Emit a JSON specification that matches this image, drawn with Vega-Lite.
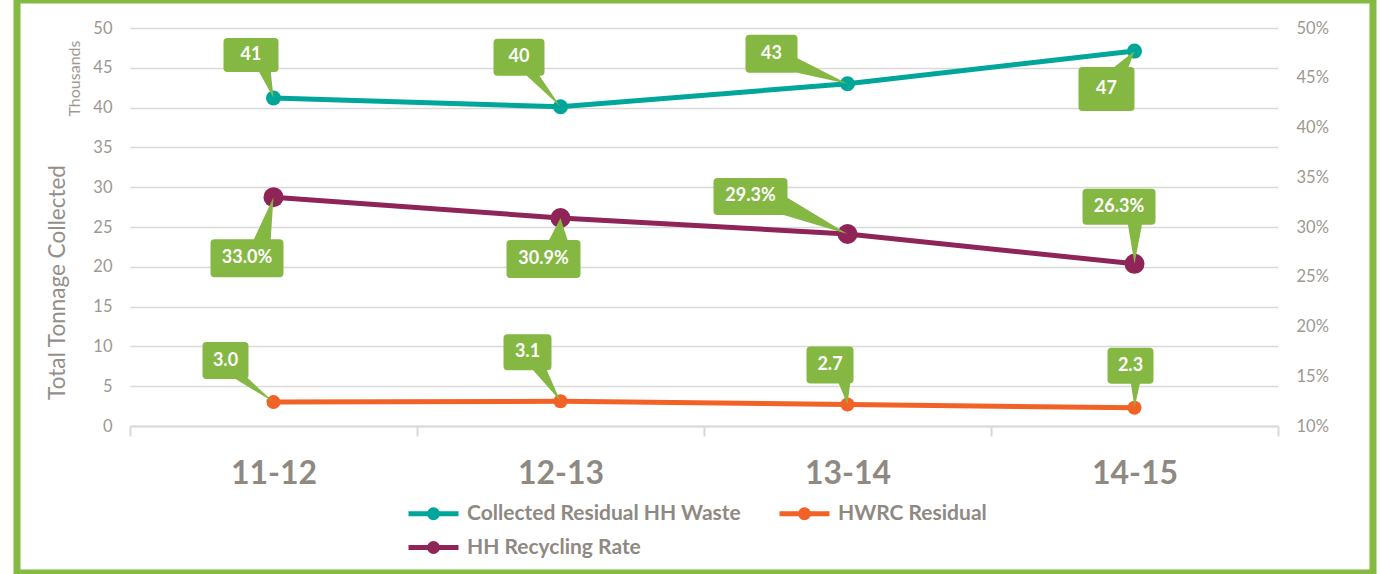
{
  "$schema": "https://vega.github.io/schema/vega-lite/v6.json",
  "width": 1356,
  "height": 573,
  "autosize": {"type": "none"},
  "padding": {"left": 17, "top": 0, "right": 9, "bottom": 1},
  "params": [
    {"name": "lkeys", "value": ["41", "40", "43", "47", "33.0%", "30.9%", "29.3%", "26.3%", "3.0", "3.1", "2.7", "2.3"]},
    {"name": "ldx", "value": [-22.5, -41.5, -76, -28, -26.5, -17, -97, -15.5, -48, -33, -17.5, -4]},
    {"name": "ldy", "value": [-43, -49.5, -30, 38, 61, 41, -37.5, -57, -41.5, -49, -39.5, -42]}
  ],
  "data": {
    "values": [
      {"year": "11-12", "series": "Collected Residual HH Waste", "value": 41.2, "label": "41"},
      {"year": "12-13", "series": "Collected Residual HH Waste", "value": 40.1, "label": "40"},
      {"year": "13-14", "series": "Collected Residual HH Waste", "value": 43.0, "label": "43"},
      {"year": "14-15", "series": "Collected Residual HH Waste", "value": 47.1, "label": "47"},
      {"year": "11-12", "series": "HWRC Residual", "value": 3.0, "label": "3.0"},
      {"year": "12-13", "series": "HWRC Residual", "value": 3.1, "label": "3.1"},
      {"year": "13-14", "series": "HWRC Residual", "value": 2.7, "label": "2.7"},
      {"year": "14-15", "series": "HWRC Residual", "value": 2.3, "label": "2.3"},
      {"year": "11-12", "series": "HH Recycling Rate", "value": 0.330, "label": "33.0%"},
      {"year": "12-13", "series": "HH Recycling Rate", "value": 0.309, "label": "30.9%"},
      {"year": "13-14", "series": "HH Recycling Rate", "value": 0.293, "label": "29.3%"},
      {"year": "14-15", "series": "HH Recycling Rate", "value": 0.263, "label": "26.3%"}
    ]
  },
  "encoding": {
    "x": {
      "field": "year",
      "type": "nominal",
      "sort": ["11-12", "12-13", "13-14", "14-15"],
      "scale": {"type": "band", "range": [113, 1261], "paddingInner": 0, "paddingOuter": 0},
      "axis": {
        "orient": "bottom",
        "offset": -147,
        "title": null,
        "labelAngle": 0,
        "labelFont": "Lato",
        "labelFontSize": 32,
        "labelFontWeight": "bold",
        "labelColor": "#8f8982",
        "labelPadding": 22,
        "domainColor": "#d9d9d9",
        "domainWidth": 2,
        "tickColor": "#d9d9d9",
        "tickWidth": 2,
        "tickSize": 10,
        "tickBand": "extent",
        "grid": false
      }
    }
  },
  "layer": [
    {
      "transform": [{"filter": "datum.series === 'Collected Residual HH Waste'"}],
      "encoding": {
        "y": {
          "field": "value",
          "type": "quantitative",
          "scale": {"domain": [0, 50], "range": [426, 28], "nice": false, "zero": false},
          "axis": {
            "orient": "left",
            "offset": -113,
            "values": [0, 5, 10, 15, 20, 25, 30, 35, 40, 45, 50],
            "domain": false,
            "ticks": false,
            "tickSize": 0,
            "labelPadding": 18,
            "labelFont": "Lato",
            "labelFontSize": 16.5,
            "labelColor": "#9e9892",
            "grid": true,
            "gridColor": "#d9d9d9",
            "gridWidth": 1.5,
            "title": "Total Tonnage Collected",
            "titleX": -73,
            "titleY": 282,
            "titleAngle": -90,
            "titleBaseline": "middle",
            "titleAlign": "center",
            "titleFont": "Lato",
            "titleFontSize": 22.5,
            "titleFontWeight": "normal",
            "titleColor": "#968f89"
          }
        }
      },
      "layer": [
        {
          "mark": {"type": "line", "strokeWidth": 5},
          "encoding": {
            "color": {
              "field": "series",
              "type": "nominal",
              "scale": {"domain": ["Collected Residual HH Waste", "HWRC Residual", "HH Recycling Rate"], "range": ["#00A699", "#F26126", "#8E2458"]},
              "legend": {"title": null, "symbolType": "M-25,0L25,0M1.5,0A1.5,1.5,0,1,1,-1.5,0A1.5,1.5,0,1,1,1.5,0M4,0A4,4,0,1,1,-4,0A4,4,0,1,1,4,0"}
            }
          }
        },
        {"mark": {"type": "point", "filled": true, "opacity": 1, "size": 225, "color": "#00A699"}},
        {
          "mark": {"type": "point", "filled": true, "opacity": 1, "size": 4, "color": "#84B843", "strokeWidth": 0},
          "encoding": {
            "shape": {
              "field": "label",
              "type": "nominal",
              "scale": {
                "domain": ["41", "40", "43", "47", "33.0%", "30.9%", "29.3%", "26.3%", "3.0", "3.1", "2.7", "2.3"],
                "range": [
                  "M-46,-60L1,-60Q5,-60,5,-56L5,-30Q5,-26,1,-26L-46,-26Q-50,-26,-50,-30L-50,-56Q-50,-60,-46,-60ZM0,0L-16,-29L-3,-29Z",
                  "M-63,-68L-20,-68Q-16,-68,-16,-64L-16,-35Q-16,-31,-20,-31L-63,-31Q-67,-31,-67,-35L-67,-64Q-67,-68,-63,-68ZM0,0L-37,-34L-23,-34Z",
                  "M-98,-49L-54,-49Q-50,-49,-50,-45L-50,-15Q-50,-11,-54,-11L-98,-11Q-102,-11,-102,-15L-102,-45Q-102,-49,-98,-49ZM0,0L-64,-14L-53,-27Z",
                  "M-52,16L-4,16Q0,16,0,20L0,56Q0,60,-4,60L-52,60Q-56,60,-56,56L-56,20Q-56,16,-52,16ZM0,0L-7,19L-24,19Z",
                  "M-59,42L6,42Q10,42,10,46L10,76Q10,80,6,80L-59,80Q-63,80,-63,76L-63,46Q-63,42,-59,42ZM0,0L-3,45L-21,45Z",
                  "M-50,22L16,22Q20,22,20,26L20,56Q20,60,16,60L-50,60Q-54,60,-54,56L-54,26Q-54,22,-50,22ZM0,0L8,25L-13,25Z",
                  "M-130,-56L-64,-56Q-60,-56,-60,-52L-60,-23Q-60,-19,-64,-19L-130,-19Q-134,-19,-134,-23L-134,-52Q-134,-56,-130,-56ZM0,0L-74,-22L-63,-38Z",
                  "M-48,-75L17,-75Q21,-75,21,-71L21,-43Q21,-39,17,-39L-48,-39Q-52,-39,-52,-43L-52,-71Q-52,-75,-48,-75ZM0,0L-7,-42L8,-42Z",
                  "M-67,-60L-29,-60Q-25,-60,-25,-56L-25,-27Q-25,-23,-29,-23L-67,-23Q-71,-23,-71,-27L-71,-56Q-71,-60,-67,-60ZM0,0L-43,-26L-28,-26Z",
                  "M-53,-67L-13,-67Q-9,-67,-9,-63L-9,-35Q-9,-31,-13,-31L-53,-31Q-57,-31,-57,-35L-57,-63Q-57,-67,-53,-67ZM0,0L-30,-34L-15,-34Z",
                  "M-37,-58L2,-58Q6,-58,6,-54L6,-25Q6,-21,2,-21L-37,-21Q-41,-21,-41,-25L-41,-54Q-41,-58,-37,-58ZM0,0L-10,-24L3,-24Z",
                  "M-23,-60L15,-60Q19,-60,19,-56L19,-28Q19,-24,15,-24L-23,-24Q-27,-24,-27,-28L-27,-56Q-27,-60,-23,-60ZM0,0L-4,-27L6,-27Z"
                ]
              },
              "legend": null
            }
          }
        },
        {
          "mark": {"type": "text", "align": "center", "baseline": "middle", "font": "Lato", "fontSize": 18, "fontWeight": "bold", "color": "#ffffff",
            "dx": {"expr": "ldx[indexof(lkeys, datum.label)]"}, "dy": {"expr": "ldy[indexof(lkeys, datum.label)]"}},
          "encoding": {"text": {"field": "label"}}
        }
      ]
    },
    {
      "transform": [{"filter": "datum.series === 'HH Recycling Rate'"}],
      "encoding": {
        "y": {
          "field": "value",
          "type": "quantitative",
          "scale": {"domain": [0.1, 0.5], "range": [426, 28], "nice": false, "zero": false},
          "axis": {
            "orient": "right",
            "offset": -95,
            "values": [0.1, 0.15, 0.2, 0.25, 0.3, 0.35, 0.4, 0.45, 0.5],
            "format": ".0%",
            "domain": false,
            "ticks": false,
            "tickSize": 0,
            "labelPadding": 18,
            "labelFont": "Lato",
            "labelFontSize": 16.5,
            "labelColor": "#9e9892",
            "grid": false,
            "title": null
          }
        }
      },
      "layer": [
        {
          "mark": {"type": "line", "strokeWidth": 5},
          "encoding": {
            "color": {
              "field": "series",
              "type": "nominal",
              "scale": {"domain": ["Collected Residual HH Waste", "HWRC Residual", "HH Recycling Rate"], "range": ["#00A699", "#F26126", "#8E2458"]},
              "legend": {"title": null, "symbolType": "M-25,0L25,0M1.5,0A1.5,1.5,0,1,1,-1.5,0A1.5,1.5,0,1,1,1.5,0M4,0A4,4,0,1,1,-4,0A4,4,0,1,1,4,0"}
            }
          }
        },
        {"mark": {"type": "point", "filled": true, "opacity": 1, "size": 400, "color": "#8E2458"}},
        {
          "mark": {"type": "point", "filled": true, "opacity": 1, "size": 4, "color": "#84B843", "strokeWidth": 0},
          "encoding": {
            "shape": {
              "field": "label",
              "type": "nominal",
              "scale": {
                "domain": ["41", "40", "43", "47", "33.0%", "30.9%", "29.3%", "26.3%", "3.0", "3.1", "2.7", "2.3"],
                "range": [
                  "M-46,-60L1,-60Q5,-60,5,-56L5,-30Q5,-26,1,-26L-46,-26Q-50,-26,-50,-30L-50,-56Q-50,-60,-46,-60ZM0,0L-16,-29L-3,-29Z",
                  "M-63,-68L-20,-68Q-16,-68,-16,-64L-16,-35Q-16,-31,-20,-31L-63,-31Q-67,-31,-67,-35L-67,-64Q-67,-68,-63,-68ZM0,0L-37,-34L-23,-34Z",
                  "M-98,-49L-54,-49Q-50,-49,-50,-45L-50,-15Q-50,-11,-54,-11L-98,-11Q-102,-11,-102,-15L-102,-45Q-102,-49,-98,-49ZM0,0L-64,-14L-53,-27Z",
                  "M-52,16L-4,16Q0,16,0,20L0,56Q0,60,-4,60L-52,60Q-56,60,-56,56L-56,20Q-56,16,-52,16ZM0,0L-7,19L-24,19Z",
                  "M-59,42L6,42Q10,42,10,46L10,76Q10,80,6,80L-59,80Q-63,80,-63,76L-63,46Q-63,42,-59,42ZM0,0L-3,45L-21,45Z",
                  "M-50,22L16,22Q20,22,20,26L20,56Q20,60,16,60L-50,60Q-54,60,-54,56L-54,26Q-54,22,-50,22ZM0,0L8,25L-13,25Z",
                  "M-130,-56L-64,-56Q-60,-56,-60,-52L-60,-23Q-60,-19,-64,-19L-130,-19Q-134,-19,-134,-23L-134,-52Q-134,-56,-130,-56ZM0,0L-74,-22L-63,-38Z",
                  "M-48,-75L17,-75Q21,-75,21,-71L21,-43Q21,-39,17,-39L-48,-39Q-52,-39,-52,-43L-52,-71Q-52,-75,-48,-75ZM0,0L-7,-42L8,-42Z",
                  "M-67,-60L-29,-60Q-25,-60,-25,-56L-25,-27Q-25,-23,-29,-23L-67,-23Q-71,-23,-71,-27L-71,-56Q-71,-60,-67,-60ZM0,0L-43,-26L-28,-26Z",
                  "M-53,-67L-13,-67Q-9,-67,-9,-63L-9,-35Q-9,-31,-13,-31L-53,-31Q-57,-31,-57,-35L-57,-63Q-57,-67,-53,-67ZM0,0L-30,-34L-15,-34Z",
                  "M-37,-58L2,-58Q6,-58,6,-54L6,-25Q6,-21,2,-21L-37,-21Q-41,-21,-41,-25L-41,-54Q-41,-58,-37,-58ZM0,0L-10,-24L3,-24Z",
                  "M-23,-60L15,-60Q19,-60,19,-56L19,-28Q19,-24,15,-24L-23,-24Q-27,-24,-27,-28L-27,-56Q-27,-60,-23,-60ZM0,0L-4,-27L6,-27Z"
                ]
              },
              "legend": null
            }
          }
        },
        {
          "mark": {"type": "text", "align": "center", "baseline": "middle", "font": "Lato", "fontSize": 18, "fontWeight": "bold", "color": "#ffffff",
            "dx": {"expr": "ldx[indexof(lkeys, datum.label)]"}, "dy": {"expr": "ldy[indexof(lkeys, datum.label)]"}},
          "encoding": {"text": {"field": "label"}}
        }
      ]
    },
    {
      "transform": [{"filter": "datum.series === 'HWRC Residual'"}],
      "encoding": {
        "y": {
          "field": "value",
          "type": "quantitative",
          "scale": {"domain": [0, 50], "range": [426, 28], "nice": false, "zero": false},
          "axis": {
            "orient": "left",
            "offset": -113,
            "labels": false,
            "domain": false,
            "ticks": false,
            "tickSize": 0,
            "grid": false,
            "title": "Thousands",
            "titleX": -56,
            "titleY": 78,
            "titleAngle": -90,
            "titleBaseline": "middle",
            "titleAlign": "center",
            "titleFont": "Lato",
            "titleFontSize": 16,
            "titleFontWeight": "normal",
            "titleColor": "#a09a94"
          }
        }
      },
      "layer": [
        {
          "mark": {"type": "line", "strokeWidth": 5},
          "encoding": {
            "color": {
              "field": "series",
              "type": "nominal",
              "scale": {"domain": ["Collected Residual HH Waste", "HWRC Residual", "HH Recycling Rate"], "range": ["#00A699", "#F26126", "#8E2458"]},
              "legend": {"title": null, "symbolType": "M-25,0L25,0M1.5,0A1.5,1.5,0,1,1,-1.5,0A1.5,1.5,0,1,1,1.5,0M4,0A4,4,0,1,1,-4,0A4,4,0,1,1,4,0"}
            }
          }
        },
        {"mark": {"type": "point", "filled": true, "opacity": 1, "size": 196, "color": "#F26126"}},
        {
          "mark": {"type": "point", "filled": true, "opacity": 1, "size": 4, "color": "#84B843", "strokeWidth": 0},
          "encoding": {
            "shape": {
              "field": "label",
              "type": "nominal",
              "scale": {
                "domain": ["41", "40", "43", "47", "33.0%", "30.9%", "29.3%", "26.3%", "3.0", "3.1", "2.7", "2.3"],
                "range": [
                  "M-46,-60L1,-60Q5,-60,5,-56L5,-30Q5,-26,1,-26L-46,-26Q-50,-26,-50,-30L-50,-56Q-50,-60,-46,-60ZM0,0L-16,-29L-3,-29Z",
                  "M-63,-68L-20,-68Q-16,-68,-16,-64L-16,-35Q-16,-31,-20,-31L-63,-31Q-67,-31,-67,-35L-67,-64Q-67,-68,-63,-68ZM0,0L-37,-34L-23,-34Z",
                  "M-98,-49L-54,-49Q-50,-49,-50,-45L-50,-15Q-50,-11,-54,-11L-98,-11Q-102,-11,-102,-15L-102,-45Q-102,-49,-98,-49ZM0,0L-64,-14L-53,-27Z",
                  "M-52,16L-4,16Q0,16,0,20L0,56Q0,60,-4,60L-52,60Q-56,60,-56,56L-56,20Q-56,16,-52,16ZM0,0L-7,19L-24,19Z",
                  "M-59,42L6,42Q10,42,10,46L10,76Q10,80,6,80L-59,80Q-63,80,-63,76L-63,46Q-63,42,-59,42ZM0,0L-3,45L-21,45Z",
                  "M-50,22L16,22Q20,22,20,26L20,56Q20,60,16,60L-50,60Q-54,60,-54,56L-54,26Q-54,22,-50,22ZM0,0L8,25L-13,25Z",
                  "M-130,-56L-64,-56Q-60,-56,-60,-52L-60,-23Q-60,-19,-64,-19L-130,-19Q-134,-19,-134,-23L-134,-52Q-134,-56,-130,-56ZM0,0L-74,-22L-63,-38Z",
                  "M-48,-75L17,-75Q21,-75,21,-71L21,-43Q21,-39,17,-39L-48,-39Q-52,-39,-52,-43L-52,-71Q-52,-75,-48,-75ZM0,0L-7,-42L8,-42Z",
                  "M-67,-60L-29,-60Q-25,-60,-25,-56L-25,-27Q-25,-23,-29,-23L-67,-23Q-71,-23,-71,-27L-71,-56Q-71,-60,-67,-60ZM0,0L-43,-26L-28,-26Z",
                  "M-53,-67L-13,-67Q-9,-67,-9,-63L-9,-35Q-9,-31,-13,-31L-53,-31Q-57,-31,-57,-35L-57,-63Q-57,-67,-53,-67ZM0,0L-30,-34L-15,-34Z",
                  "M-37,-58L2,-58Q6,-58,6,-54L6,-25Q6,-21,2,-21L-37,-21Q-41,-21,-41,-25L-41,-54Q-41,-58,-37,-58ZM0,0L-10,-24L3,-24Z",
                  "M-23,-60L15,-60Q19,-60,19,-56L19,-28Q19,-24,15,-24L-23,-24Q-27,-24,-27,-28L-27,-56Q-27,-60,-23,-60ZM0,0L-4,-27L6,-27Z"
                ]
              },
              "legend": null
            }
          }
        },
        {
          "mark": {"type": "text", "align": "center", "baseline": "middle", "font": "Lato", "fontSize": 18, "fontWeight": "bold", "color": "#ffffff",
            "dx": {"expr": "ldx[indexof(lkeys, datum.label)]"}, "dy": {"expr": "ldy[indexof(lkeys, datum.label)]"}},
          "encoding": {"text": {"field": "label"}}
        }
      ]
    }
  ],
  "resolve": {"scale": {"y": "independent"}, "axis": {"y": "independent"}},
  "config": {
    "font": "Lato",
    "view": {"stroke": "#84BA42", "strokeWidth": 7},
    "legend": {
      "orient": "none",
      "legendX": 381,
      "legendY": 503,
      "columns": 2,
      "direction": "horizontal",
      "symbolSize": 4,
      "symbolStrokeWidth": 5,
      "symbolOffset": 25,
      "labelOffset": 23,
      "labelFont": "Lato",
      "labelFontSize": 21,
      "labelFontWeight": "bold",
      "labelColor": "#8f8982",
      "labelLimit": 400,
      "columnPadding": 28,
      "rowPadding": 5,
      "padding": 0
    }
  }
}
